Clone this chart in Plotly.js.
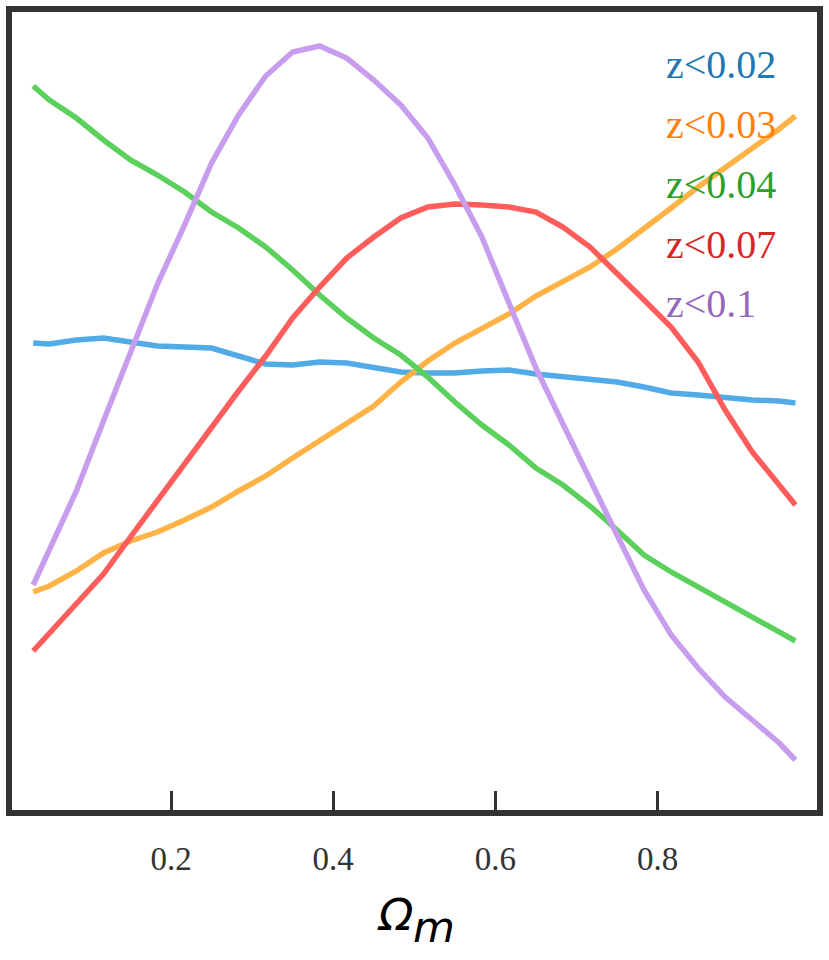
<!DOCTYPE html>
<html>
<head>
<meta charset="utf-8">
<script src="https://cdn.plot.ly/plotly-3.0.1.min.js"></script>
<style>
  body { margin: 0; background: #fff; }
  #plot { width: 829px; height: 960px; }
</style>
</head>
<body>
<div id="plot"></div>
<script>
// Omega_m grid
var om = [0.03, 0.05, 0.0833, 0.1167, 0.15, 0.1833, 0.2167, 0.25, 0.2833, 0.3167,
          0.35, 0.3833, 0.4167, 0.45, 0.4833, 0.5167, 0.55, 0.5833, 0.6167, 0.65,
          0.6833, 0.7167, 0.75, 0.7833, 0.8167, 0.85, 0.8833, 0.9167, 0.95, 0.97];

// relative likelihood (no y scale shown)
var z002 = [465, 464, 468, 470, 466, 462, 461, 460, 452, 444, 443, 446, 445, 440, 436,
            435, 435, 437, 438, 434, 431, 428, 426, 421, 415, 413, 410, 408, 407, 405];
var z003 = [216, 222, 237, 255, 267, 276, 288, 301, 317, 332, 350, 367, 384, 402, 426,
            447, 465, 479, 494, 512, 527, 541, 559, 579, 600, 621, 640, 660, 679, 692];
var z004 = [722, 708, 690, 668, 648, 633, 616, 596, 580, 561, 538, 513, 490, 470, 453,
            431, 406, 383, 363, 340, 323, 302, 278, 253, 236, 221, 206, 190, 175, 167];
var z007 = [157, 175, 204, 234, 271, 308, 345, 382, 417, 452, 490, 521, 550, 571, 590,
            601, 604, 603, 601, 596, 581, 561, 535, 508, 481, 446, 398, 356, 323, 303];
var z01  = [223, 259, 317, 387, 457, 524, 583, 645, 693, 732, 756, 762, 750, 728, 703,
            670, 623, 571, 505, 440, 384, 327, 273, 218, 173, 140, 111, 88, 65, 48];

var names = ["z<0.02", "z<0.03", "z<0.04", "z<0.07", "z<0.1"];
var series = [z002, z003, z004, z007, z01];
var lineColors = ["#52abe6", "#ffb347", "#5cd05c", "#ff5c5c", "#c89ded"];
var textColors = ["#1f77b4", "#ff7f0e", "#2ca02c", "#d62728", "#9467bd"];
var tickVals = [0.2, 0.4, 0.6, 0.8];
var tickText = ["0.2", "0.4", "0.6", "0.8"];

var data = [];
for (let i = 0; i < series.length; i++) {
  data.push({
    x: om,
    y: series[i],
    mode: 'lines',
    name: names[i],
    line: {color: lineColors[i], width: 5.5}
  });
}

// legend written as coloured labels
var labelY = [64, 124, 184, 244, 303];
var annotations = [];
for (let i = 0; i < names.length; i++) {
  annotations.push({
    xref: 'paper', yref: 'paper',
    x: (664 - 12) / 805, y: (810 - labelY[i]) / 798,
    xanchor: 'left', yanchor: 'middle',
    text: names[i].replace('<', '&lt;'),
    showarrow: false,
    font: {family: 'Liberation Serif, Times New Roman, serif', size: 40, color: textColors[i]}
  });
}
// axis title: Omega_m
annotations.push({
  xref: 'paper', yref: 'paper', x: (375 - 12) / 805, y: (810 - 915) / 798,
  xanchor: 'left', yanchor: 'middle', showarrow: false,
  text: '<i>Ω</i>',
  font: {family: 'DejaVu Sans, sans-serif', size: 45, color: '#000'}
});
annotations.push({
  xref: 'paper', yref: 'paper', x: (411 - 12) / 805, y: (810 - 927) / 798,
  xanchor: 'left', yanchor: 'middle', showarrow: false,
  text: '<i>m</i>',
  font: {family: 'DejaVu Sans, sans-serif', size: 43, color: '#000'}
});

var layout = {
  width: 829,
  height: 960,
  margin: {l: 12, r: 12, t: 12, b: 150},
  paper_bgcolor: '#fff',
  plot_bgcolor: '#fff',
  showlegend: false,
  xaxis: {
    range: [0.0039, 0.9966],
    tickvals: tickVals,
    ticktext: tickText,
    ticks: 'inside',
    ticklen: 19,
    tickwidth: 3,
    tickcolor: '#333',
    ticklabelstandoff: 14,
    showgrid: false,
    zeroline: false,
    showline: true,
    mirror: true,
    linewidth: 6,
    linecolor: '#333',
    tickfont: {family: 'Liberation Serif, Times New Roman, serif', size: 33, color: '#333'}
  },
  yaxis: {
    range: [-2, 796],
    showticklabels: false,
    ticks: '',
    showgrid: false,
    zeroline: false,
    showline: true,
    mirror: true,
    linewidth: 6,
    linecolor: '#333'
  },
  annotations: annotations
};

Plotly.newPlot('plot', data, layout, {displayModeBar: false, staticPlot: true});
</script>
</body>
</html>
